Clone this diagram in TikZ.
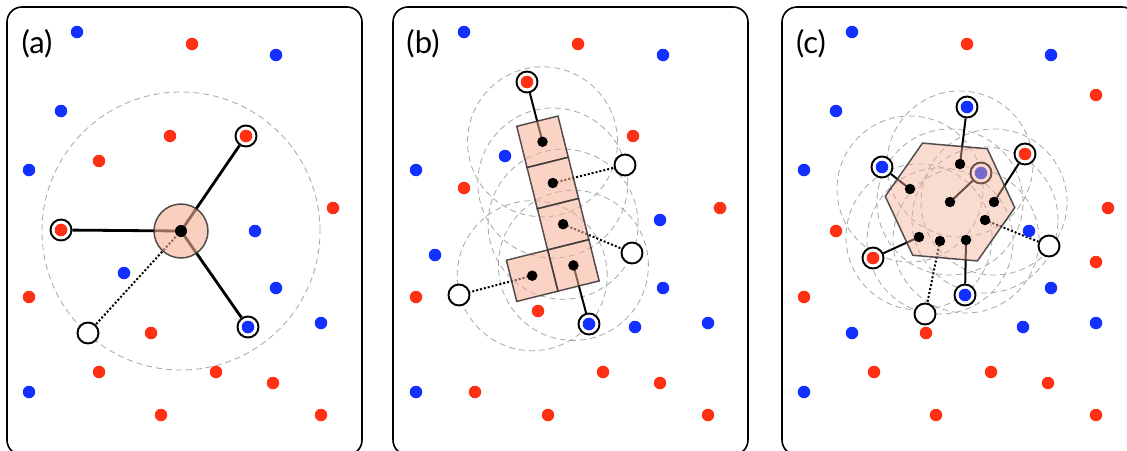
\documentclass[tikz,border=0pt]{standalone}
\usepackage{fontspec}
\setmainfont{Lato}
\usepackage{tikz}
\usetikzlibrary{shapes.geometric}
\definecolor{dotred}{RGB}{255,48,20}
\definecolor{dotblue}{RGB}{18,48,255}
\definecolor{salmon}{RGB}{245,175,150}
\pgfdeclarelayer{bg}
\pgfdeclarelayer{mid}
\pgfsetlayers{bg,mid,main}

\begin{document}
\begin{tikzpicture}[x=1pt,y=-1pt]
\tikzstyle{every node}=[inner sep=0pt]
\tikzstyle{rdot}=[circle,fill=dotred,minimum size=12.5pt]
\tikzstyle{bdot}=[circle,fill=dotblue,minimum size=12.5pt]
\tikzstyle{kdot}=[circle,fill=black,minimum size=10.5pt]
\tikzstyle{hole}=[circle,draw,fill=white,line width=1.9pt,minimum size=21pt]
\tikzstyle{rring}=[hole,path picture={\fill[dotred] (path picture bounding box.center) circle (6.3pt);}]
\tikzstyle{bring}=[hole,path picture={\fill[dotblue] (path picture bounding box.center) circle (6.3pt);}]
\tikzstyle{tile}=[draw=black!80,draw opacity=0.85,fill=salmon,fill opacity=0.55,line width=1.5pt]
\tikzstyle{reach}=[draw=black!35,dash pattern=on 6pt off 4pt,line width=0.8pt]
\tikzstyle{link}=[line width=2pt]
\tikzstyle{weak}=[line width=2pt,dash pattern=on 2pt off 2pt]
\tikzstyle{panel}=[draw,line width=1.6pt,rounded corners=15pt]
\tikzstyle{tag}=[font=\fontsize{31}{36}\selectfont]

\useasboundingbox (0,0) rectangle (1127,450);
\clip (0,0) rectangle (1127,450);

% (a) single point
\draw[panel] (7,7) rectangle (362,455);
\node[tag] (TA) at (37,44) {(a)};
\foreach \x/\y [count=\i] in {192/44,170/136,99/161,333/208,29/297,151/333,
    99/372,216/372,273/383,161/415,321/415}
  \node[rdot] (AR\i) at (\x,\y) {};
\foreach \x/\y [count=\i] in {77/32,276/55,61/111,29/170,255/231,124/273,
    276/288,321/323,29/392}
  \node[bdot] (AB\i) at (\x,\y) {};
\node[rring] (AX1) at (246,136) {};
\node[rring] (AX2) at (61,230) {};
\node[bring] (AX3) at (248,327) {};
\node[hole] (AO1) at (88,333) {};
\begin{pgfonlayer}{mid}
\node[tile,circle,minimum size=54pt,fill opacity=0.6] (AHUB) at (181,231) {};
\end{pgfonlayer}
\node[kdot,minimum size=12pt] (AK) at (AHUB) {};
\begin{pgfonlayer}{bg}
\draw[reach] (AK) circle (139pt);
\draw[link,line width=2.8pt] (AK.center) -- (AX1) (AK.center) -- (AX2)
  (AK.center) -- (AX3);
\draw[weak] (AK.center) -- (AO1);
\end{pgfonlayer}

% (b) squares
\draw[panel] (393,7) rectangle (748,455);
\node[tag] (TB) at (423,44) {(b)};
\foreach \x/\y [count=\i] in {578/44,633/136,464/188,720/208,416/297,538/311,
    603/372,660/383,475/392,548/415,708/415}
  \node[rdot] (BR\i) at (\x,\y) {};
\foreach \x/\y [count=\i] in {464/32,663/55,505/156,416/170,660/220,435/255,
    663/288,635/327,708/323,416/392}
  \node[bdot] (BB\i) at (\x,\y) {};
\node[rring] (BX1) at (527,82) {};
\node[bring] (BX2) at (589,324) {};
\node[hole] (BO1) at (625,165) {};
\node[hole] (BO2) at (632,253) {};
\node[hole] (BO3) at (459,295) {};
\begin{pgfonlayer}{mid}
\foreach \x/\y [count=\i] in {542.5/141.8,552.8/183,563.1/224.2,573.4/265.4,532.2/275.7}
  \node[tile,rectangle,minimum size=42.5pt,rotate=14] (BS\i) at (\x,\y) {};
\end{pgfonlayer}
\foreach \i in {1,...,5}
  \node[kdot] (BK\i) at (BS\i) {};
\begin{pgfonlayer}{bg}
\foreach \i in {1,...,5}
  \draw[reach] (BK\i) circle (75pt);
\draw[link] (BK1.center) -- (BX1) (BK4.center) -- (BX2);
\draw[weak] (BK2.center) -- (BO1) (BK3.center) -- (BO2) (BK5.center) -- (BO3);
\end{pgfonlayer}

% (c) hexagon
\draw[panel] (782,7) rectangle (1137,455);
\node[tag] (TC) at (811,44) {(c)};
\foreach \x/\y [count=\i] in {967/44,1096/95,1108/208,836/231,1096/262,804/297,
    926/333,874/372,991/372,1048/383,936/415,1096/415}
  \node[rdot] (CR\i) at (\x,\y) {};
\foreach \x/\y [count=\i] in {852/32,1051/55,836/111,804/170,1029/231,1051/288,
    852/333,1023/327,1096/323,804/392}
  \node[bdot] (CB\i) at (\x,\y) {};
\node[bring] (CX1) at (967,107) {};
\node[bring] (CX2) at (882,167) {};
\node[rring] (CX3) at (1025,154) {};
\node[rring] (CX4) at (873,258) {};
\node[bring] (CX5) at (965,295) {};
\node[hole] (CO1) at (1049,246) {};
\node[hole] (CO2) at (925,314) {};
\begin{pgfonlayer}{mid}
\node[tile,regular polygon,regular polygon sides=6,minimum size=130pt,rotate=-5,
  fill opacity=0.45] (CHEX) at (950,202) {};
\end{pgfonlayer}
\foreach \x/\y [count=\i] in {960/164,910/189,950/202,994/202,985/220,919/237,
    940/241,966/240}
  \node[kdot] (CK\i) at (\x,\y) {};
\begin{pgfonlayer}{bg}
\foreach \i in {1,...,8}
  \draw[reach] (CK\i) circle (73pt);
\node[bring] (CX6) at (981,173) {};
\draw[link] (CK1.center) -- (CX1) (CK2.center) -- (CX2) (CK4.center) -- (CX3)
  (CK6.center) -- (CX4) (CK8.center) -- (CX5) (CK3.center) -- (CX6);
\draw[weak] (CK5.center) -- (CO1) (CK7.center) -- (CO2);
\end{pgfonlayer}
\end{tikzpicture}
\end{document}
